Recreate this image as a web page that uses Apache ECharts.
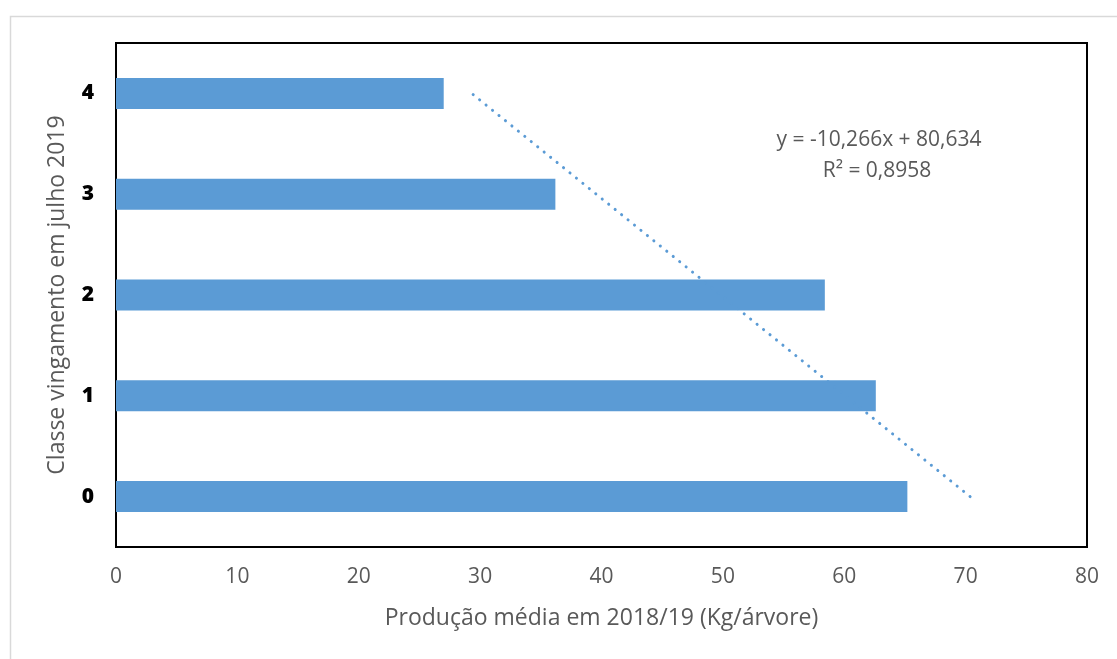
<!DOCTYPE html>
<html>
<head>
<meta charset="utf-8">
<script src="https://cdn.jsdelivr.net/npm/echarts@6/dist/echarts.min.js"></script>
<style>
html,body{margin:0;padding:0;background:#fff;}
#chart{width:1117px;height:659px;}
</style>
</head>
<body>
<div id="chart"></div>
<script>
// Data
const categories = ['0', '1', '2', '3', '4'];
const production = [65.2, 62.6, 58.4, 36.2, 27.0];
const xTicks = [0, 10, 20, 30, 40, 50, 60, 70, 80];
// Excel linear trendline shown on chart: y = -10.266x + 80.634 (x = category position 1..5)
const trendSlope = -10.266;
const trendIntercept = 80.634;
const trendLabel = ['y = -10,266x + 80,634', 'R² = 0,8958'];
const xTitle = 'Produção média em 2018/19 (Kg/árvore)';
const yTitle = 'Classe vingamento em julho 2019';

const trendData = [
  [trendSlope * 1 + trendIntercept, categories[0]],
  [trendSlope * categories.length + trendIntercept, categories[categories.length - 1]]
];

const chart = echarts.init(document.getElementById('chart'), null, {renderer: 'canvas'});
const gray = '#595959';
const font = '"Open Sans", sans-serif';

chart.setOption({
  animation: false,
  backgroundColor: '#fff',
  grid: {
    left: 116, top: 43, right: 30, bottom: 112,
    show: true, borderColor: '#000', borderWidth: 2, backgroundColor: 'transparent'
  },
  xAxis: {
    type: 'value', min: xTicks[0], max: xTicks[xTicks.length - 1], interval: 10,
    axisLine: {show: false}, axisTick: {show: false}, splitLine: {show: false},
    axisLabel: {color: gray, fontFamily: font, fontSize: 21, margin: 20},
    name: xTitle,
    nameLocation: 'middle', nameGap: 60, nameMoveOverlap: false,
    nameTextStyle: {color: gray, fontFamily: font, fontSize: 23}
  },
  yAxis: {
    type: 'category', data: categories,
    axisLine: {show: false}, axisTick: {show: false}, splitLine: {show: false},
    axisLabel: {color: '#000', fontFamily: font, fontWeight: 900, fontSize: 21, margin: 22}
  },
  series: [
    {
      type: 'bar', data: production, barWidth: 31,
      itemStyle: {color: '#5B9BD5'}
    },
    {
      type: 'line', data: trendData, symbol: 'none', z: 3,
      lineStyle: {color: '#5B9BD5', width: 3, type: [0.1, 8.2], cap: 'round'}
    }
  ],
  graphic: [
    {type: 'rect', left: 8, top: 14, shape: {width: 1200, height: 700},
     style: {fill: 'none', stroke: '#d9d9d9', lineWidth: 1.5}, z: -10, silent: true},
    {type: 'text', x: 57, y: 295, rotation: Math.PI / 2,
     style: {text: yTitle, fill: gray, font: '23px ' + font, align: 'center', verticalAlign: 'middle'}},
    {type: 'text', x: 879, y: 140, style: {text: trendLabel[0], fill: gray, font: '21px ' + font, align: 'center', verticalAlign: 'middle'}},
    {type: 'text', x: 877, y: 171, style: {text: trendLabel[1], fill: gray, font: '21px ' + font, align: 'center', verticalAlign: 'middle'}}
  ]
});
</script>
</body>
</html>
